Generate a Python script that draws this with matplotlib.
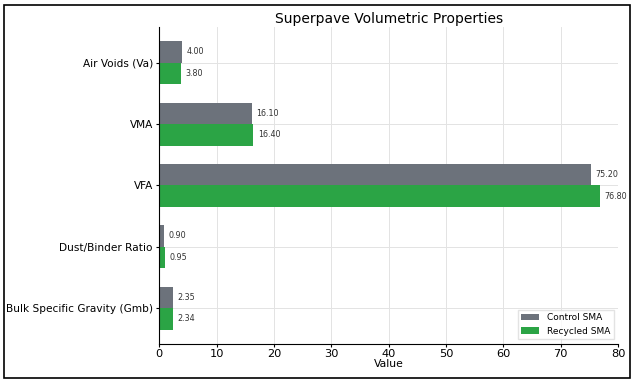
import matplotlib
matplotlib.use("Agg")
import matplotlib.pyplot as plt
import numpy as np
from matplotlib.patches import Rectangle

categories = ["Air Voids (Va)", "VMA", "VFA", "Dust/Binder Ratio", "Bulk Specific Gravity (Gmb)"]
control = [4.00, 16.10, 75.20, 0.90, 2.35]
recycled = [3.80, 16.40, 76.80, 0.95, 2.34]
series_names = ["Control SMA", "Recycled SMA"]

fig = plt.figure(figsize=(6.34, 3.83), dpi=100)
ax = fig.add_axes([0.251, 0.102, 0.724, 0.828])

y = np.arange(len(categories))
h = 0.35
b1 = ax.barh(y - h/2, control, height=h, color="#6c727b", label=series_names[0], zorder=2)
b2 = ax.barh(y + h/2, recycled, height=h, color="#2ba445", label=series_names[1], zorder=2)

for bars, vals in ((b1, control), (b2, recycled)):
    for bar, v in zip(bars, vals):
        ax.text(v + 0.8, bar.get_y() + bar.get_height()/2, f"{v:.2f}",
                va="center", ha="left", fontsize=5.8, color="#333333")

ax.set_yticks(y)
ax.set_yticklabels(categories, fontsize=7.6)
ax.invert_yaxis()
ax.set_xlim(0, 80)
ax.set_xticks(np.arange(0, 81, 10))
ax.tick_params(axis="x", labelsize=8.2, length=2, pad=1.5)
ax.tick_params(axis="y", length=2.5, pad=2)
ax.set_xlabel("Value", fontsize=7.8, labelpad=0.5)
ax.set_title("Superpave Volumetric Properties", fontsize=10, pad=3)
ax.grid(True, color="#e3e3e3", linewidth=0.7, zorder=0)
ax.set_axisbelow(True)
ax.spines["top"].set_visible(False)
ax.spines["right"].set_visible(False)
ax.legend(loc="lower right", fontsize=6.5, frameon=True, fancybox=False, edgecolor="#dddddd")

fig.patches.append(Rectangle((0.006, 0.013), 0.988, 0.975, transform=fig.transFigure,
                             fill=False, edgecolor="black", linewidth=1.2))

fig.savefig("out.png", dpi=100)
